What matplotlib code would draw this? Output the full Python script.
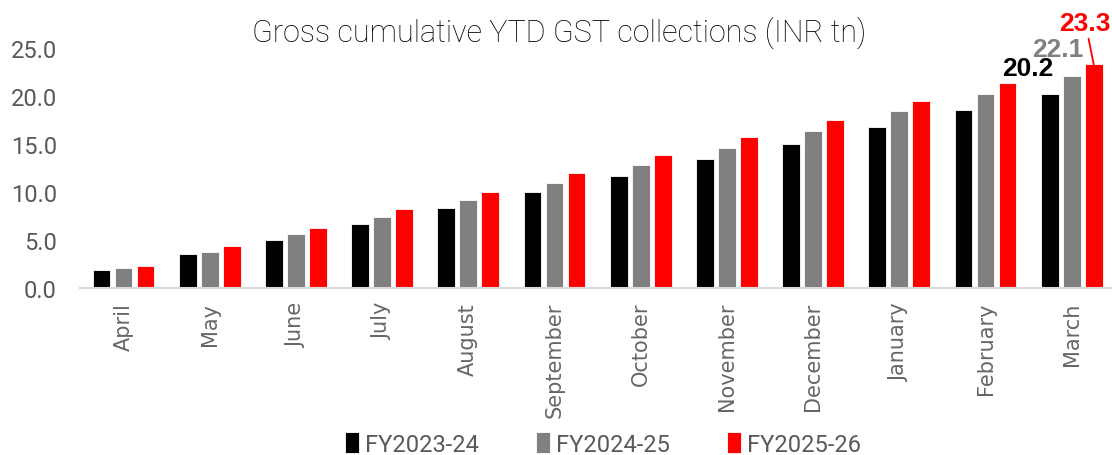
import matplotlib
matplotlib.use("Agg")
import matplotlib.pyplot as plt
import numpy as np

months = ["April", "May", "June", "July", "August", "September", "October",
          "November", "December", "January", "February", "March"]
fy24 = [1.9, 3.5, 5.0, 6.7, 8.3, 10.0, 11.7, 13.4, 15.0, 16.8, 18.5, 20.2]
fy25 = [2.1, 3.8, 5.6, 7.4, 9.2, 10.9, 12.8, 14.6, 16.4, 18.4, 20.2, 22.1]
fy26 = [2.3, 4.4, 6.2, 8.2, 10.0, 12.0, 13.9, 15.7, 17.5, 19.5, 21.4, 23.3]
series = ["FY2023-24", "FY2024-25", "FY2025-26"]
colors = ["#000000", "#808080", "#FF0000"]

plt.rcParams['font.family'] = ['Roboto', 'DejaVu Sans']
txt_gray = "#595959"

fig = plt.figure(figsize=(11.12, 4.56), dpi=100)
ax = fig.add_axes([80.4 / 1112, 1 - 289 / 456, 1034.4 / 1112, 240 / 456])

x = np.arange(len(months))
w = 0.205
step = 0.255
for i, (vals, c, lab) in enumerate(zip([fy24, fy25, fy26], colors, series)):
    ax.bar(x + (i - 1) * step, vals, width=w, color=c, edgecolor="white",
           linewidth=0.6, label=lab)

ax.set_xlim(-0.5, len(months) - 0.5)
ax.set_ylim(0, 25)
yt = np.arange(0, 25.1, 5)
ax.set_yticks(yt)
ax.set_yticklabels([f"{v:.1f}" for v in yt])
ax.set_xticks(x)
ax.set_xticklabels(months, rotation=90, family=['DejaVu Sans'])
ax.tick_params(axis="y", length=0, labelsize=17, labelcolor=txt_gray, pad=17)
ax.tick_params(axis="x", length=0, labelsize=15, labelcolor="#666666", pad=10)
for s in ["top", "right", "left"]:
    ax.spines[s].set_visible(False)
ax.spines["bottom"].set_color("#d9d9d9")
ax.spines["bottom"].set_linewidth(1.5)

fig.text(559 / 1112, 1 - 33 / 456, "Gross cumulative YTD GST collections (INR tn)",
         ha="center", va="center", fontsize=22, fontweight="light", color="black")

# labels on the March bars
last = len(months) - 1
lab_kw = dict(textcoords="offset points", ha="center", va="baseline",
              fontsize=19, fontweight="bold", family=['Liberation Sans', 'DejaVu Sans'])
ax.annotate(f"{fy24[-1]:.1f}", xy=(x[last] - step, fy24[-1]), xytext=(-16, 13.5),
            color=colors[0], **lab_kw)
ax.annotate(f"{fy25[-1]:.1f}", xy=(x[last], fy25[-1]), xytext=(-10, 14),
            color=colors[1], **lab_kw)
ax.annotate(f"{fy26[-1]:.1f}", xy=(x[last] + step, fy26[-1]), xytext=(-6, 25),
            color=colors[2],
            arrowprops=dict(arrowstyle="-", color=colors[2], lw=1.3,
                            shrinkA=1, shrinkB=0), **lab_kw)

fig.legend(loc="center", bbox_to_anchor=(603 / 1112, 1 - 445 / 456), ncol=3,
           frameon=False, prop=dict(size=17),
           handlelength=0.6, handleheight=1.0,
           handletextpad=0.25, columnspacing=2.4, labelcolor=txt_gray)

fig.savefig("out.png", dpi=100)
